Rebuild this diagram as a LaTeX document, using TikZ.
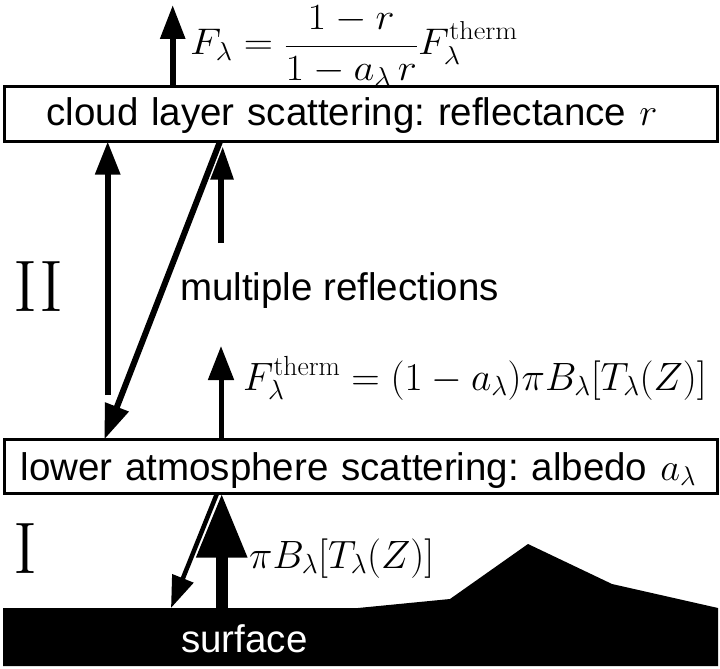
\RequirePackage{fix-cm}
\documentclass[tikz,border=0pt]{standalone}
\usepackage{fontspec}
\setsansfont{Liberation Sans}
\usepackage{graphicx}
\usetikzlibrary{arrows.meta,backgrounds}
\frenchspacing
\begin{document}
\begin{tikzpicture}[x=1pt,y=-1pt,
  mathlbl/.style={font=\fontsize{39.5}{46}\selectfont, inner sep=0pt, anchor=base west},
  sanslbl/.style={font=\sffamily\fontsize{38.5}{44}\selectfont, inner sep=0pt, anchor=base west},
  romlbl/.style={font=\fontsize{73}{80}\selectfont, inner sep=0pt, anchor=base west},
  layerbox/.style={draw, line width=3pt, fill=white, outer sep=0pt, anchor=west,
    font=\sffamily\fontsize{38.5}{44}\selectfont, align=left, minimum height=55pt},
  arrline/.style={line width=#1, line cap=butt},
  wgap/.style={preaction={draw=white, line width=#1}}
]
\useasboundingbox (0,0) rectangle (720,669);

% surface
\fill[black] (3,608) -- (358,608) -- (450,599) -- (528,544) -- (612,584)
  -- (718,608) -- (718,666) -- (3,666) -- cycle;
\node[sanslbl, text=white] (surftext) at (181,652) {surface};

% layers
\node[layerbox, inner xsep=42pt, text width=629pt, text height=28pt, text depth=6pt]
  (cloud) at (4.5,114) {cloud layer scattering: reflectance $r$};
\node[layerbox, inner xsep=16pt, text width=681pt, text height=30pt, text depth=3pt, minimum height=54pt]
  (lower) at (4.5,466.5) {lower atmosphere scattering: albedo $a_\lambda$};

% labels
\node[mathlbl, font=\fontsize{37}{44}\selectfont] (ftop) at (190,55)
  {\scalebox{1.094}[1]{$\displaystyle F_\lambda = \frac{1-r}{1-a_\lambda\,r}F_\lambda^{\mathrm{therm}}$}};
\node[mathlbl] (ftherm) at (243,390)
  {$F_\lambda^{\mathrm{therm}} = (1-a_\lambda)\pi B_\lambda[T_\lambda(Z)]$};
\node[mathlbl] (piB) at (249,568) {$\pi B_\lambda[T_\lambda(Z)]$};
\node[sanslbl] (multi) at (180,300) {multiple reflections};
\node[romlbl] (two) at (13,311) {II};
\node[romlbl] (one) at (13,573) {I};

% free ends of connectors
\coordinate (topend) at (172.7,5);
\coordinate (lstart) at (107.7,395);
\coordinate (sstart) at (221,243);
\coordinate (dtop) at (220,0);
\coordinate (dbot) at (104.3,0);
\coordinate (fend) at (221,346);
\coordinate (thick) at (221.7,608);
\coordinate (ttop) at (217,0);
\coordinate (tbot) at (171,608);

\begin{pgfonlayer}{background}
\draw[arrline=6pt, -{Triangle[length=34pt,width=24pt]}] (cloud.north -| topend) -- (topend);
\draw[arrline=6pt, -{Triangle[length=33pt,width=24pt]}] (lstart) -- (cloud.south -| lstart);
\draw[arrline=6pt, -{Triangle[length=38pt,width=24pt]}] (sstart) -- (cloud.south -| sstart);
\draw[arrline=6pt, wgap=9pt, -{Triangle[length=35pt,width=24pt]}] (cloud.south -| dtop) -- (lower.north -| dbot);
\draw[arrline=5pt, -{Triangle[length=34pt,width=25pt]}] (lower.north -| fend) -- (fend);
\draw[arrline=12pt, -{Triangle[length=64pt,width=48pt]}] (thick) -- (lower.south -| thick);
\draw[arrline=4.5pt, wgap=7.5pt, -{Triangle[length=32pt,width=22pt]}] (lower.south -| ttop) -- (tbot);
\end{pgfonlayer}
\end{tikzpicture}
\end{document}
